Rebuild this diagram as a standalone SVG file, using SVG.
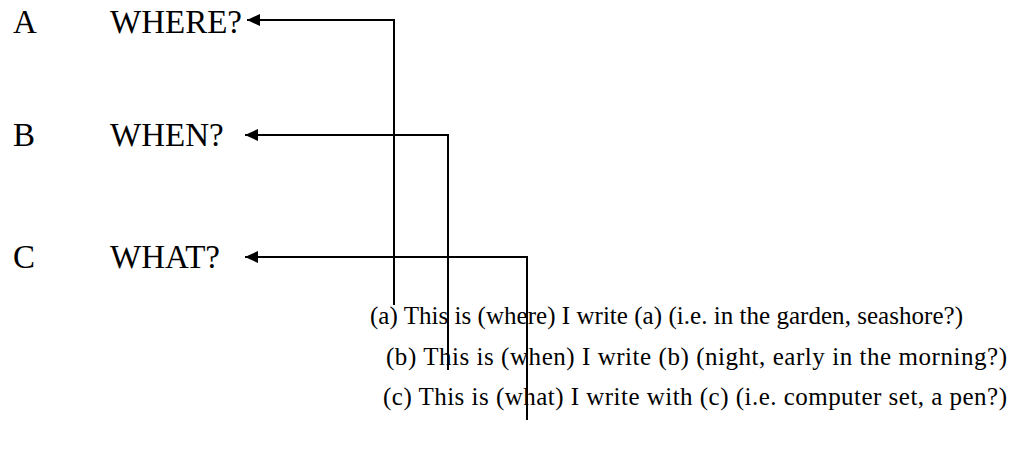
<svg xmlns="http://www.w3.org/2000/svg" width="1022" height="456" viewBox="0 0 1022 456">
<style>
.big{font-family:"Liberation Serif","Times New Roman",serif;font-size:33px;fill:#000}
.small{font-family:"Liberation Serif","Times New Roman",serif;font-size:25px;fill:#000}
.conn{fill:none;stroke:#000;stroke-width:2}
</style>
<defs>
<marker id="ah" markerWidth="14" markerHeight="12" refX="13" refY="6" orient="auto" markerUnits="userSpaceOnUse">
<path d="M0,0 L13,6 L0,12 Z" fill="#000"/>
</marker>
</defs>
<rect width="1022" height="456" fill="#fff"/>
<g id="nodeA"><text class="big" x="13" y="33">A</text><text class="big" x="110" y="33">WHERE?</text></g>
<g id="nodeB"><text class="big" x="13" y="146">B</text><text class="big" x="110" y="146">WHEN?</text></g>
<g id="nodeC"><text class="big" x="13" y="268">C</text><text class="big" x="110" y="268">WHAT?</text></g>
<g id="noteA"><text class="small" x="370" y="324" textLength="593" lengthAdjust="spacing">(a) This is (where) I write (a) (i.e. in the garden, seashore?)</text></g>
<g id="noteB"><text class="small" x="386" y="365" textLength="621" lengthAdjust="spacing">(b) This is (when) I write (b) (night, early in the morning?)</text></g>
<g id="noteC"><text class="small" x="383" y="405" textLength="624" lengthAdjust="spacing">(c) This is (what) I write with (c) (i.e. computer set, a pen?)</text></g>
<g id="connectors">
<path class="conn" d="M394,305 V20 H247" marker-end="url(#ah)"/>
<path class="conn" d="M448,370 V135 H245" marker-end="url(#ah)"/>
<path class="conn" d="M527,420 V257 H245" marker-end="url(#ah)"/>
</g>
</svg>
